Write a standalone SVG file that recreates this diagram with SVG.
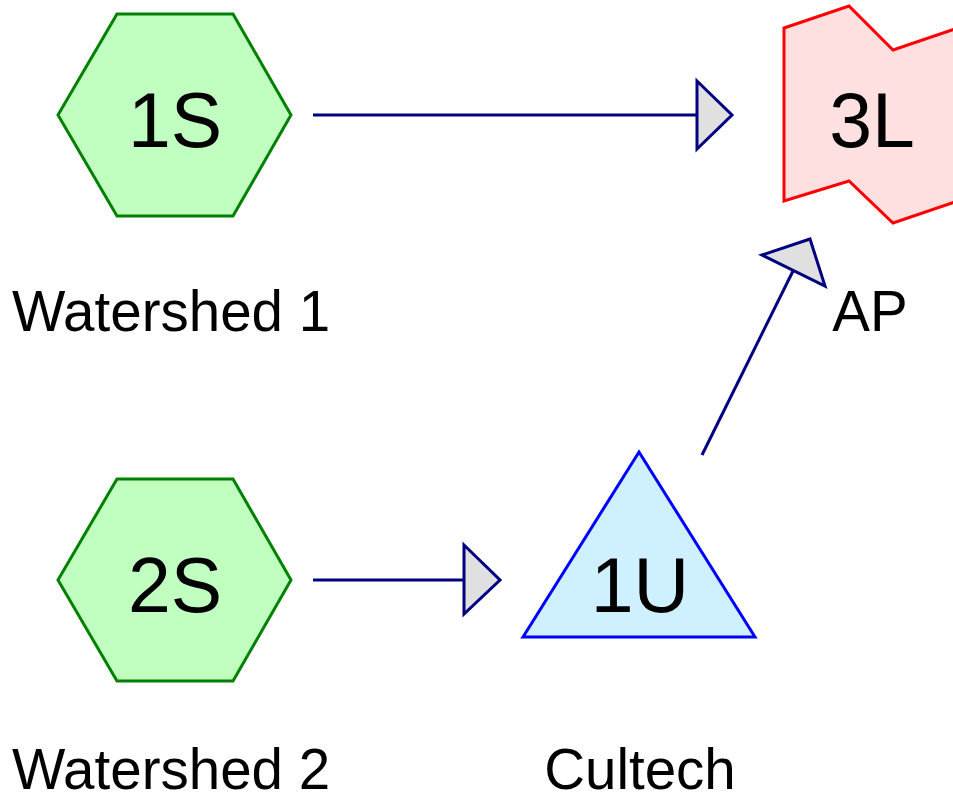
<svg xmlns="http://www.w3.org/2000/svg" width="953" height="801" viewBox="0 0 953 801">
<style>
text{font-family:"Liberation Sans",Arial,sans-serif;fill:#000;text-anchor:middle}
.big{font-size:77px}
.lbl{font-size:56.5px}
.hex{fill:#c0ffc0;stroke:#008000;stroke-width:3}
.tri{fill:#cff0ff;stroke:#0000ff;stroke-width:3}
.wav{fill:#ffe0e0;stroke:#ff0000;stroke-width:3}
.edge{stroke:#000080;stroke-width:3;fill:none}
.head{fill:#e0e0e0;stroke:#000080;stroke-width:3;stroke-linejoin:miter}
</style>
<g id="connectors">
<g id="e1"><line class="edge" x1="313" y1="115" x2="697" y2="115"/><polygon class="head" points="697,81 732,115 697,149"/></g>
<g id="e2"><line class="edge" x1="313" y1="580" x2="464" y2="580"/><polygon class="head" points="464,545 500,580 464,614"/></g>
<g id="e3"><line class="edge" x1="702" y1="455" x2="793" y2="271"/><polygon class="head" points="762,255 810,239 825,286"/></g>
</g>
<g id="n1S"><polygon class="hex" points="58,115 117,14 233,14 291,115 233,216 117,216"/><text class="big" x="175" y="147">1S</text><text class="lbl" x="171" y="331">Watershed 1</text></g>
<g id="n2S"><polygon class="hex" points="58,580 117,479 233,479 291,580 233,681 117,681"/><text class="big" x="175" y="612">2S</text><text class="lbl" x="171" y="789">Watershed 2</text></g>
<g id="n1U"><polygon class="tri" points="639,452 755,637 523,637"/><text class="big" x="640" y="612">1U</text><text class="lbl" x="640" y="789">Cultech</text></g>
<g id="n3L"><polygon class="wav" points="784,28 849,6 893,50 958,28 958,201 893,223 849,181 784,201"/><text class="big" x="872" y="147">3L</text><text class="lbl" x="870" y="331">AP</text></g>
</svg>
